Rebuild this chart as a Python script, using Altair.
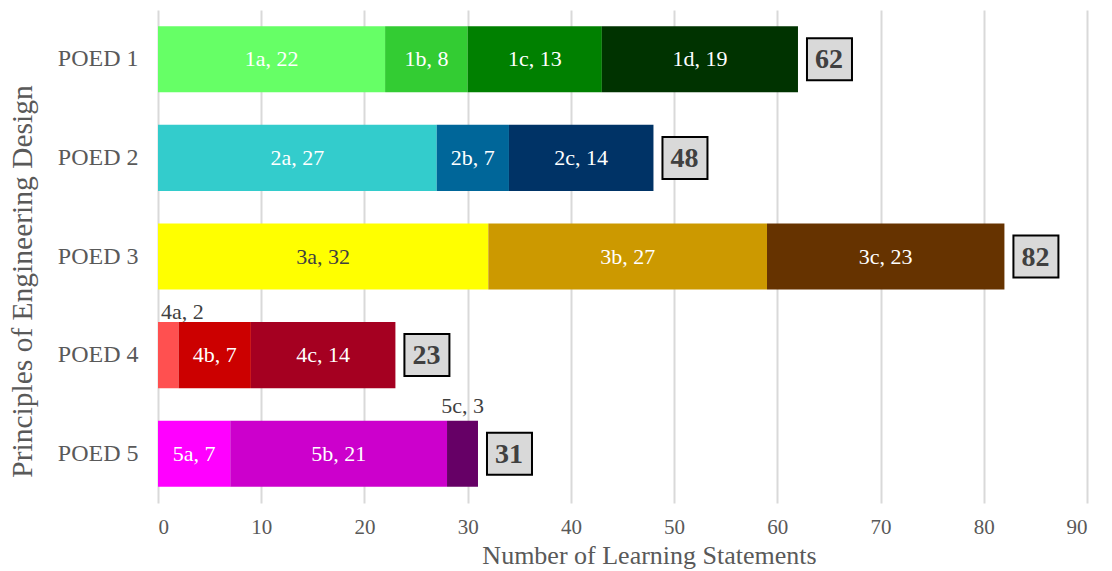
import altair as alt
import pandas as pd

poed = ["POED 1"] * 4 + ["POED 2"] * 3 + ["POED 3"] * 3 + ["POED 4"] * 3 + ["POED 5"] * 3
segments = ["1a", "1b", "1c", "1d", "2a", "2b", "2c", "3a", "3b", "3c",
            "4a", "4b", "4c", "5a", "5b", "5c"]
values = [22, 8, 13, 19, 27, 7, 14, 32, 27, 23, 2, 7, 14, 7, 21, 3]
colors = ["#66FF66", "#33CC33", "#008000", "#003300",
          "#33CCCC", "#006699", "#003366",
          "#FFFF00", "#CC9900", "#663300",
          "#FF5050", "#CC0000", "#A50021",
          "#FF00FF", "#CC00CC", "#660066"]
categories = ["POED 1", "POED 2", "POED 3", "POED 4", "POED 5"]
x_ticks = [0, 10, 20, 30, 40, 50, 60, 70, 80, 90]

df = pd.DataFrame({"poed": poed, "seg": segments, "value": values})
df["label"] = df["seg"] + ", " + df["value"].astype(str)

FONT = "Liberation Serif"

base = alt.Chart(df).transform_stack(
    stack="value", as_=["x0", "x1"], groupby=["poed"], sort=[alt.SortField("seg")]
).transform_calculate(mid="(datum.x0 + datum.x1) / 2")

yenc = alt.Y("poed:N", sort=categories,
             scale=alt.Scale(paddingInner=0.33, paddingOuter=0.165),
             axis=alt.Axis(title="Principles of Engineering Design", ticks=False, domain=False,
                           grid=False, labelFont=FONT, labelFontSize=24, labelColor="#595959",
                           labelPadding=20, titleFont=FONT, titleFontSize=29.5,
                           titleFontWeight="normal", titleColor="#595959",
                           titleX=-136, titleY=271, titleBaseline="middle", titleAngle=-90))

xscale = alt.Scale(domain=[0, 90], nice=False)
xaxis = alt.Axis(title="Number of Learning Statements", values=x_ticks, ticks=False,
                 domain=False, grid=True, gridColor="#D9D9D9", gridWidth=2,
                 labelFont=FONT, labelFontSize=21, labelColor="#595959", labelPadding=13,
                 titleFont=FONT, titleFontSize=26, titleFontWeight="normal",
                 titleColor="#595959", titleX=491, titleY=52, titleBaseline="middle")

bars = base.mark_bar().encode(
    y=yenc,
    x=alt.X("x0:Q", scale=xscale, axis=xaxis),
    x2="x1:Q",
    color=alt.Color("seg:N", scale=alt.Scale(domain=segments, range=colors), legend=None),
)

inside = base.transform_filter("datum.value >= 5").mark_text(
    font=FONT, fontSize=22, baseline="middle", align="center"
).encode(
    y=alt.Y("poed:N", sort=categories),
    x=alt.X("mid:Q", scale=xscale),
    text="label:N",
    color=alt.condition("datum.seg == '3a'", alt.value("#404040"), alt.value("#FFFFFF")),
)

above_left = base.transform_filter("datum.seg == '4a'").mark_text(
    font=FONT, fontSize=22, baseline="alphabetic", align="left", dx=3, dy=-36, color="#404040"
).encode(
    y=alt.Y("poed:N", sort=categories),
    x=alt.X("x0:Q", scale=xscale),
    text="label:N",
)

above_mid = base.transform_filter("datum.seg == '5c'").mark_text(
    font=FONT, fontSize=22, baseline="alphabetic", align="center", dy=-41, color="#404040"
).encode(
    y=alt.Y("poed:N", sort=categories),
    x=alt.X("mid:Q", scale=xscale),
    text="label:N",
)

totals = alt.Chart(df).transform_aggregate(total="sum(value)", groupby=["poed"])

boxes = totals.mark_point(
    shape="M 9 -21 H 54 V 21 H 9 Z", size=4, filled=True, fill="#D9D9D9",
    stroke="#000000", strokeWidth=2, opacity=1
).encode(
    y=alt.Y("poed:N", sort=categories),
    x=alt.X("total:Q", scale=xscale),
)

total_text = totals.mark_text(
    font=FONT, fontSize=28, fontWeight="bold", color="#404040",
    align="center", baseline="middle", dx=31, dy=1
).encode(
    y=alt.Y("poed:N", sort=categories),
    x=alt.X("total:Q", scale=xscale),
    text="total:Q",
)

chart = alt.layer(bars, inside, above_left, above_mid, boxes, total_text).properties(
    width=929, height=493,
    autosize=alt.AutoSizeParams(type="none"),
    padding={"left": 158, "top": 10, "right": 25, "bottom": 68},
).configure_view(stroke=None)

chart.save("out.html", embed_options={"renderer": "svg", "actions": False})
